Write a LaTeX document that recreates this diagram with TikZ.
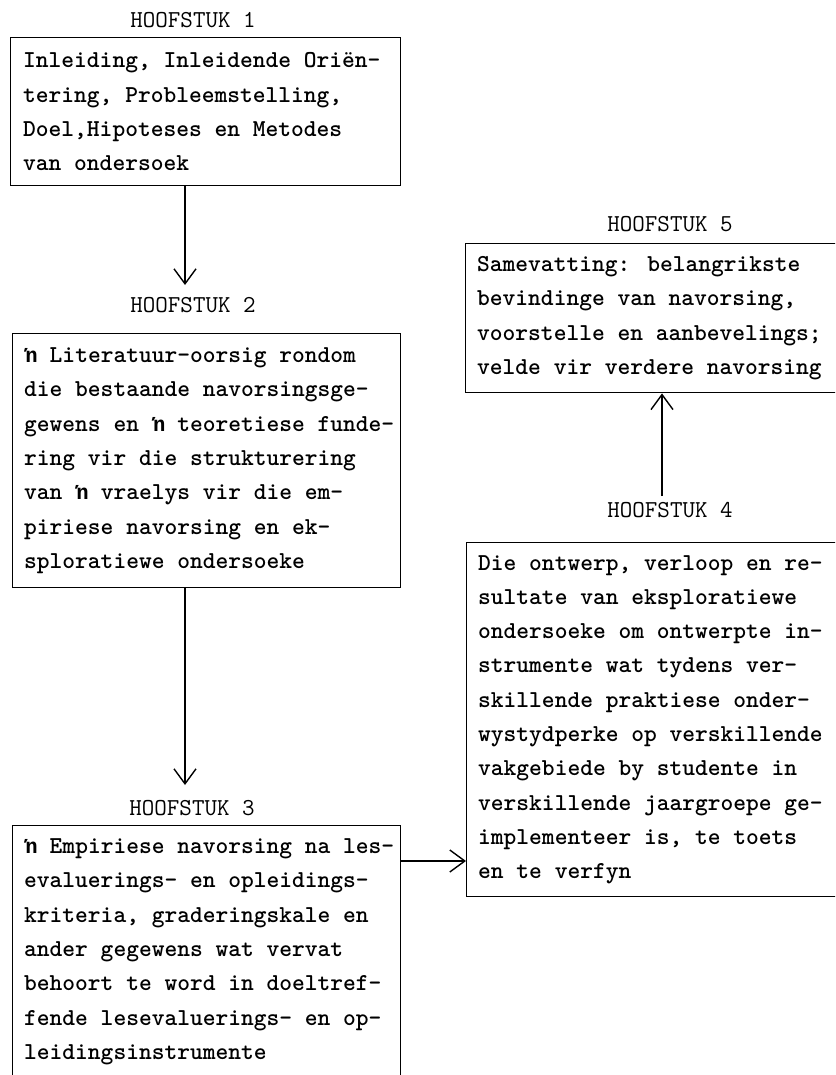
\documentclass[tikz,border=0pt]{standalone}
\usepackage{fontspec}
\usetikzlibrary{arrows.meta}
\newfontfamily\nfont{Liberation Mono}
\newcommand\apn{{\fontsize{21.3}{34.3}\nfont\bfseries ŉ}}
\tikzset{
  box/.style={draw, line width=1.4pt, rectangle, anchor=north west, inner sep=0pt},
  boxtext/.style={anchor=west, align=left, inner sep=0pt, font=\ttfamily\bfseries\fontsize{24.3}{34.3}\selectfont},
  head/.style={font=\ttfamily\fontsize{24.3}{28}\selectfont, inner sep=0pt},
  arr/.style={line width=1.4pt, -{Straight Barb[length=15pt,width=22pt,line width=1.4pt]}}
}
\begin{document}
\begin{tikzpicture}[x=1pt,y=-1pt]
\useasboundingbox (0,0) rectangle (835,1075);
\clip (0,0) rectangle (835,1075);
\fill[white] (0,0) rectangle (835,1075);

% headings
\node[head] (h1) at (193,20) {HOOFSTUK 1};
\node[head] (h2) at (193,305) {HOOFSTUK 2};
\node[head] (h3) at (192,808) {HOOFSTUK 3};
\node[head] (h5) at (670,224) {HOOFSTUK 5};
\node[head] (h4) at (670,510) {HOOFSTUK 4};

% boxes
\node[box, minimum width=390pt, minimum height=148pt] (b1) at (10,37) {};
\node[box, minimum width=388pt, minimum height=254pt] (b2) at (12,333) {};
\node[box, minimum width=388pt, minimum height=252pt] (b3) at (12,825) {};
\node[box, minimum width=390pt, minimum height=354pt] (b4) at (466,542) {};
\node[box, minimum width=390pt, minimum height=149pt] (b5) at (465,243) {};

% texts
\node[boxtext] (t1) at ([xshift=13pt]b1.west) {Inleiding, Inleidende Oriën-\\tering, Probleemstelling,\\Doel,Hipoteses en Metodes\\van ondersoek};
\node[boxtext] (t2) at ([xshift=12pt]b2.west) {\apn{} Literatuur-oorsig rondom\\die bestaande navorsingsge-\\gewens en \apn{} teoretiese funde-\\ring vir die strukturering\\van \apn{} vraelys vir die em-\\piriese navorsing en ek-\\sploratiewe ondersoeke};
\node[boxtext] (t3) at ([xshift=12pt]b3.west) {\apn{} Empiriese navorsing na les-\\evaluerings- en opleidings-\\kriteria, graderingskale en\\ander gegewens wat vervat\\behoort te word in doeltref-\\fende lesevaluerings- en op-\\leidingsinstrumente};
\node[boxtext] (t4) at ([xshift=12pt]b4.west) {Die ontwerp, verloop en re-\\sultate van eksploratiewe\\ondersoeke om ontwerpte in-\\strumente wat tydens ver-\\skillende praktiese onder-\\wystydperke op verskillende\\vakgebiede by studente in\\verskillende jaargroepe ge-\\implementeer is, te toets\\en te verfyn};
\node[boxtext] (t5) at ([xshift=12pt]b5.west) {Samevatting: belangrikste\\bevindinge van navorsing,\\voorstelle en aanbevelings;\\velde vir verdere navorsing};

% connectors
\coordinate (e2) at (185,285);
\coordinate (e3) at (185,785);
\coordinate (y34) at (0,861);
\coordinate (s5) at (662,496);
\draw[arr] (e2 |- b1.south) -- (e2);
\draw[arr] (e3 |- b2.south) -- (e3);
\draw[arr] (b3.east |- y34) -- (b4.west |- y34);
\draw[arr] (s5) -- (s5 |- b5.south);
\end{tikzpicture}
\end{document}
